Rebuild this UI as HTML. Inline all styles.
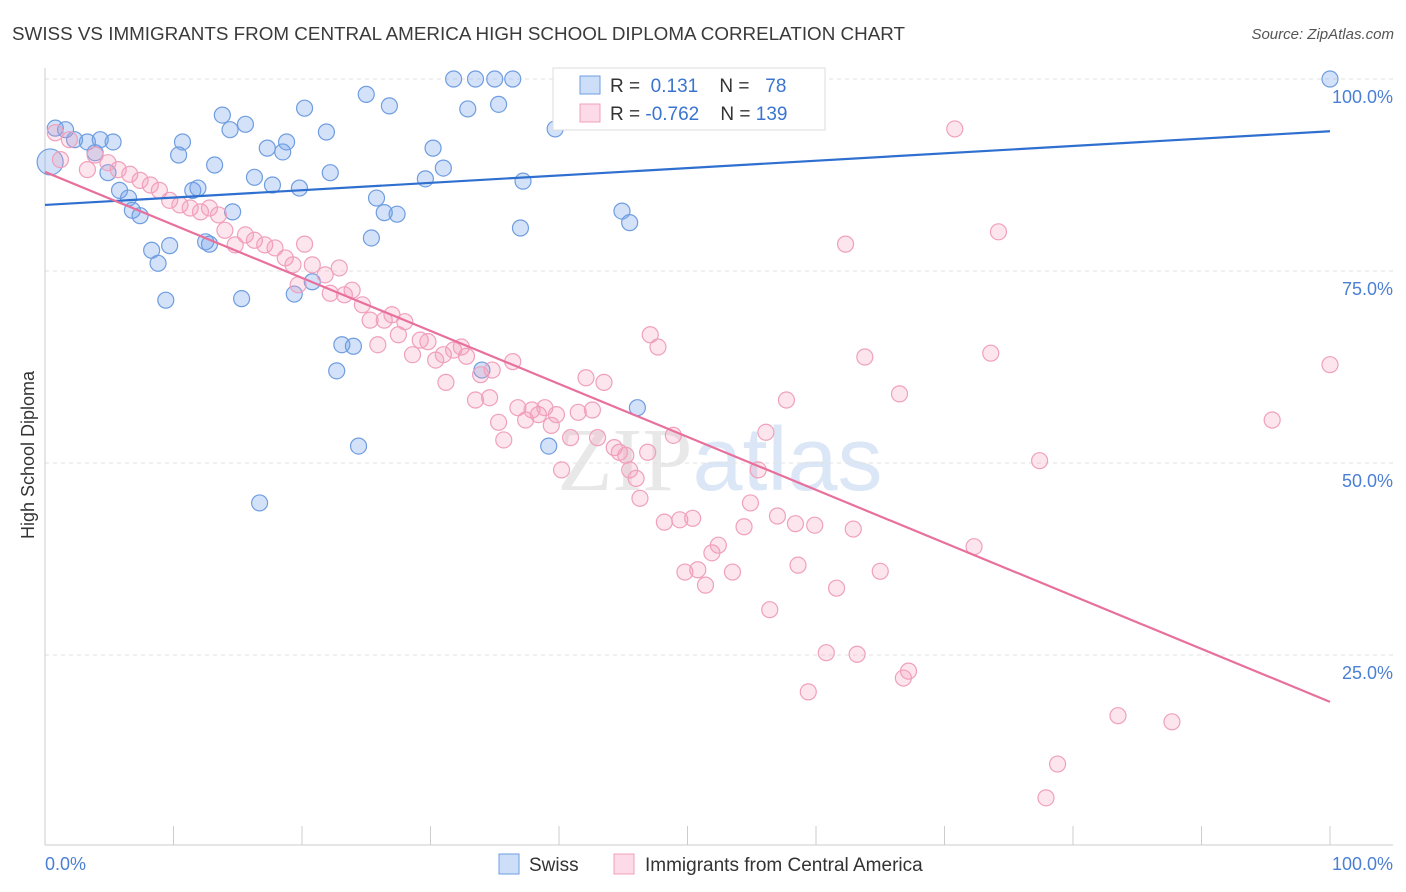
<!DOCTYPE html>
<html><head><meta charset="utf-8"><style>
body{margin:0;background:#fff;font-family:"Liberation Sans",sans-serif}
svg{display:block}
</style></head><body>
<svg id="c" width="1406" height="892">
<text x="12" y="40" font-size="18" textLength="893" lengthAdjust="spacingAndGlyphs" fill="#3a3a3a">SWISS VS IMMIGRANTS FROM CENTRAL AMERICA HIGH SCHOOL DIPLOMA CORRELATION CHART</text>
<text x="1394" y="39" font-size="15" fill="#555" text-anchor="end" font-style="italic">Source: ZipAtlas.com</text>
<text x="34" y="455" font-size="18" fill="#333" text-anchor="middle" transform="rotate(-90 34 455)">High School Diploma</text>
<text x="720" y="490" font-size="90" fill="#e8e8e8" text-anchor="middle" font-family="Liberation Serif">ZIP<tspan fill="#dbe7f6" font-family="Liberation Sans">atlas</tspan></text>
<g id="grid"></g><g id="marks"></g><g id="lines"></g>
<g>
<rect x="553" y="68" width="272" height="62" fill="#fff" stroke="#ddd"/>
<rect x="580" y="76" width="20" height="18" fill="rgba(110,160,235,0.35)" stroke="#6f9de0"/>
<text x="610" y="92" font-size="19" fill="#333">R = <tspan fill="#3b74d0">&#160;0.131</tspan>&#160;&#160;&#160; N = <tspan fill="#3b74d0">&#160; 78</tspan></text>
<rect x="580" y="104" width="20" height="18" fill="rgba(245,150,185,0.35)" stroke="#f0a0bc"/>
<text x="610" y="120" font-size="19" fill="#333">R = <tspan fill="#3b74d0">-0.762</tspan>&#160;&#160;&#160; N = <tspan fill="#3b74d0">139</tspan></text>
</g>
<g>
<rect x="499" y="854" width="20" height="20" fill="rgba(110,160,235,0.35)" stroke="#6f9de0"/>
<text x="529" y="871" font-size="19" fill="#333">Swiss</text>
<rect x="614" y="854" width="20" height="20" fill="rgba(245,150,185,0.35)" stroke="#f0a0bc"/>
<text x="645" y="871" font-size="19" fill="#333">Immigrants from Central America</text>
</g>
<text x="45" y="870" font-size="18" fill="#4a7fd4">0.0%</text>
<text x="1393" y="870" font-size="18" fill="#4a7fd4" text-anchor="end">100.0%</text>
</svg>
<script>
const yTicks=[100,75,50,25];
const yTickLabels=["100.0%","75.0%","50.0%","25.0%"];
const xTicks=[0,10,20,30,40,50,60,70,80,90,100];
const swissPx=[[50,162],[55,128],[65,130],[75,140],[88,142],[100,140],[113,142],[95,153],[108,173],[120,190],[128,198],[133,210],[140,216],[152,250],[158,263],[170,246],[166,300],[178,155],[183,142],[193,190],[198,188],[205,242],[210,244],[214,165],[222,115],[230,130],[233,212],[245,124],[242,299],[254,177],[260,503],[267,148],[272,185],[283,152],[287,142],[294,294],[299,188],[305,108],[312,282],[326,132],[330,173],[337,371],[342,345],[353,346],[358,446],[366,94],[371,238],[376,198],[384,213],[389,106],[397,214],[426,179],[433,148],[443,168],[454,79],[468,109],[476,79],[495,79],[499,104],[513,79],[520,228],[523,181],[549,446],[555,129],[578,79],[622,211],[630,223],[637,408],[652,79],[700,79],[745,79],[1330,79],[482,370]];
const pinkPx=[[55,133],[70,140],[88,170],[95,155],[108,163],[118,170],[130,174],[140,180],[150,185],[160,190],[170,200],[180,205],[190,208],[200,212],[210,208],[218,215],[225,230],[235,245],[245,235],[255,240],[265,245],[275,248],[285,258],[293,265],[305,244],[298,285],[312,265],[325,275],[330,293],[339,268],[345,295],[352,290],[362,305],[370,320],[378,345],[384,320],[392,315],[398,335],[405,322],[412,355],[420,340],[428,342],[436,360],[443,355],[446,382],[454,350],[461,347],[467,356],[475,400],[480,375],[489,398],[492,370],[498,422],[504,440],[513,362],[518,408],[525,420],[532,410],[538,415],[545,408],[551,425],[557,415],[562,470],[570,438],[578,412],[586,378],[592,410],[598,438],[604,382],[614,448],[620,452],[626,455],[630,470],[636,478],[640,498],[648,452],[650,335],[658,347],[665,522],[673,435],[680,520],[685,572],[692,518],[698,570],[706,585],[712,553],[718,545],[732,572],[744,527],[750,503],[758,470],[766,432],[770,610],[778,516],[786,400],[796,524],[798,565],[808,692],[815,525],[826,653],[837,588],[846,244],[853,529],[857,654],[865,357],[880,571],[900,394],[903,678],[909,671],[955,129],[974,547],[991,353],[999,232],[1040,461],[1046,798],[1058,764],[1118,716],[1172,722],[1272,420],[1330,365],[747,80],[60,160]];
const px2x=p=>+((p-45)/12.85).toFixed(1), px2y=p=>+((847-p)/7.68).toFixed(1);
const swissX=swissPx.map(p=>px2x(p[0])), swissY=swissPx.map(p=>px2y(p[1]));
const pinkX=pinkPx.map(p=>px2x(p[0])), pinkY=pinkPx.map(p=>px2y(p[1]));
const swissTrend=[83.6,93.2], pinkTrend=[87.9,18.9];
const X=v=>45+v*12.85, Y=v=>847-v*7.68;
const NS="http://www.w3.org/2000/svg";
function mk(t,a,p){const e=document.createElementNS(NS,t);for(const k in a)e.setAttribute(k,a[k]);p.appendChild(e);return e;}
const grid=document.getElementById('grid'),marks=document.getElementById('marks'),lines=document.getElementById('lines');
yTicks.forEach((t,i)=>{
 const l=mk('line',{x1:45,x2:1393,y1:Y(t),y2:Y(t),stroke:'#e2e2e2','stroke-dasharray':'4,4'},grid);
 
 
 const tx=mk('text',{x:1393,y:Y(t)+24,'font-size':18,fill:'#4a7fd4','text-anchor':'end'},grid);
 tx.textContent=yTickLabels[i];
 
 
});
const ax=mk('line',{x1:45,x2:1393,y1:845,y2:845,stroke:'#ccc'},grid);


const ay=mk('line',{x1:45,x2:45,y1:68,y2:845,stroke:'#ccc'},grid);


xTicks.forEach(t=>{const l=mk('line',{x1:X(t),x2:X(t),y1:826,y2:845,stroke:'#ccc'},grid);
 
 });
swissX.forEach((x,i)=>{const c=mk('circle',{cx:X(x),cy:Y(swissY[i]),r:i===0?13:8,fill:'rgba(110,160,235,0.3)',stroke:'#6f9de0','stroke-width':1.2},marks);
 
 });
pinkX.forEach((x,i)=>{const c=mk('circle',{cx:X(x),cy:Y(pinkY[i]),r:8,fill:'rgba(245,150,185,0.25)',stroke:'#f0a0bc','stroke-width':1.2},marks);
 
 });
const bl=mk('line',{x1:X(0),y1:Y(swissTrend[0]),x2:X(100),y2:Y(swissTrend[1]),stroke:'#2f6fd0','stroke-width':2.2},lines);


const pl=mk('line',{x1:X(0),y1:Y(pinkTrend[0]),x2:X(100),y2:Y(pinkTrend[1]),stroke:'#e8709c','stroke-width':2.2},lines);


</script>
</body></html>
